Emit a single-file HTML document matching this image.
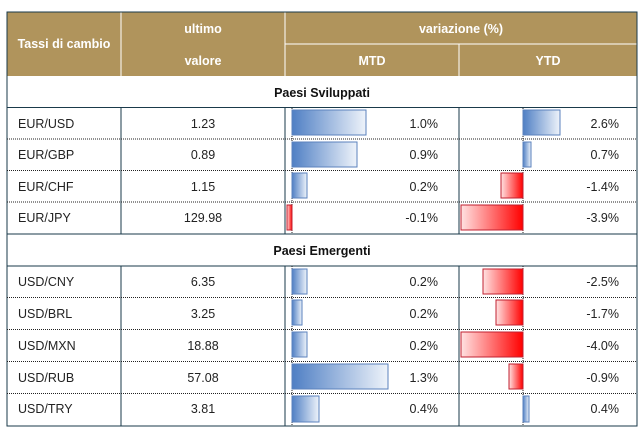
<!DOCTYPE html>
<html><head><meta charset="utf-8"><style>
body{margin:0;background:#fff;width:644px;height:434px;overflow:hidden}
svg text{font-family:"Liberation Sans",sans-serif;font-size:12.5px;fill:#222}
</style></head><body>
<svg width="644" height="434" xmlns="http://www.w3.org/2000/svg">
<defs>
<linearGradient id="b" x1="0" x2="1"><stop offset="0" stop-color="#4f7fc4"/><stop offset="1" stop-color="#eef3fa"/></linearGradient>
<linearGradient id="r" x1="0" x2="1"><stop offset="0" stop-color="#ffe2e2"/><stop offset="1" stop-color="#ff0000"/></linearGradient>
</defs>
<rect x="7" y="12" width="630" height="64" fill="#b0945c"/>
<line x1="285" y1="44" x2="637" y2="44" stroke="#fff" stroke-width="1"/>
<line x1="121" y1="12" x2="121" y2="76" stroke="#fff"/>
<line x1="285" y1="12" x2="285" y2="76" stroke="#fff"/>
<line x1="459" y1="44" x2="459" y2="76" stroke="#fff"/>
<g style="font-weight:bold">
<text x="64" y="48" text-anchor="middle" style="fill:#fff;font-weight:bold">Tassi di cambio</text>
<text x="203" y="33" text-anchor="middle" style="fill:#fff;font-weight:bold">ultimo</text>
<text x="203" y="65" text-anchor="middle" style="fill:#fff;font-weight:bold">valore</text>
<text x="461" y="33" text-anchor="middle" style="fill:#fff;font-weight:bold">variazione (%)</text>
<text x="372" y="65" text-anchor="middle" style="fill:#fff;font-weight:bold">MTD</text>
<text x="548" y="65" text-anchor="middle" style="fill:#fff;font-weight:bold">YTD</text>
<text x="322" y="97" text-anchor="middle" style="font-weight:bold;fill:#111">Paesi Sviluppati</text>
<text x="322" y="255" text-anchor="middle" style="font-weight:bold;fill:#111">Paesi Emergenti</text>
</g>
<g stroke="#1a3a4a" fill="none">
<rect x="7" y="12" width="630" height="414"/>
<line x1="7" y1="107.5" x2="637" y2="107.5"/>
<line x1="7" y1="234" x2="637" y2="234"/>
<line x1="7" y1="266" x2="637" y2="266"/>
<line x1="121" y1="107" x2="121" y2="234"/><line x1="285" y1="107" x2="285" y2="234"/><line x1="459" y1="107" x2="459" y2="234"/>
<line x1="121" y1="266" x2="121" y2="426"/><line x1="285" y1="266" x2="285" y2="426"/><line x1="459" y1="266" x2="459" y2="426"/>
</g>
<g stroke="#222" stroke-dasharray="1,1" stroke-width="1">
<line x1="7" y1="139" x2="637" y2="139"/><line x1="7" y1="170.5" x2="637" y2="170.5"/><line x1="7" y1="202" x2="637" y2="202"/>
<line x1="7" y1="297.5" x2="637" y2="297.5"/><line x1="7" y1="329.5" x2="637" y2="329.5"/><line x1="7" y1="361.5" x2="637" y2="361.5"/><line x1="7" y1="393.5" x2="637" y2="393.5"/>
<line x1="292" y1="108" x2="292" y2="234"/><line x1="523" y1="108" x2="523" y2="234"/>
<line x1="292" y1="266" x2="292" y2="426"/><line x1="523" y1="266" x2="523" y2="426"/>
</g>
<g stroke-width="1">
<rect x="292" y="110" width="74" height="25" fill="url(#b)" stroke="#5b82bd"/>
<rect x="292" y="142" width="65" height="25" fill="url(#b)" stroke="#5b82bd"/>
<rect x="292" y="173" width="15" height="25" fill="url(#b)" stroke="#5b82bd"/>
<rect x="287" y="205" width="5" height="25" fill="url(#r)" stroke="#c02030"/>
<rect x="292" y="269" width="15" height="25" fill="url(#b)" stroke="#5b82bd"/>
<rect x="292" y="300" width="10" height="25" fill="url(#b)" stroke="#5b82bd"/>
<rect x="292" y="332" width="15" height="25" fill="url(#b)" stroke="#5b82bd"/>
<rect x="292" y="364" width="96" height="25" fill="url(#b)" stroke="#5b82bd"/>
<rect x="292" y="396" width="27" height="26" fill="url(#b)" stroke="#5b82bd"/>
<rect x="523" y="110" width="37" height="25" fill="url(#b)" stroke="#5b82bd"/>
<rect x="523" y="142" width="8" height="25" fill="url(#b)" stroke="#5b82bd"/>
<rect x="501" y="173" width="22" height="25" fill="url(#r)" stroke="#c02030"/>
<rect x="461" y="205" width="62" height="25" fill="url(#r)" stroke="#c02030"/>
<rect x="483" y="269" width="40" height="25" fill="url(#r)" stroke="#c02030"/>
<rect x="496" y="300" width="27" height="25" fill="url(#r)" stroke="#c02030"/>
<rect x="461" y="332" width="62" height="25" fill="url(#r)" stroke="#c02030"/>
<rect x="509" y="364" width="14" height="25" fill="url(#r)" stroke="#c02030"/>
<rect x="523" y="396" width="6" height="26" fill="url(#b)" stroke="#5b82bd"/>
</g>
<g>
<text x="18" y="128">EUR/USD</text><text x="203" y="128" text-anchor="middle">1.23</text><text x="438" y="128" text-anchor="end">1.0%</text><text x="619" y="128" text-anchor="end">2.6%</text>
<text x="18" y="159">EUR/GBP</text><text x="203" y="159" text-anchor="middle">0.89</text><text x="438" y="159" text-anchor="end">0.9%</text><text x="619" y="159" text-anchor="end">0.7%</text>
<text x="18" y="191">EUR/CHF</text><text x="203" y="191" text-anchor="middle">1.15</text><text x="438" y="191" text-anchor="end">0.2%</text><text x="619" y="191" text-anchor="end">-1.4%</text>
<text x="18" y="222">EUR/JPY</text><text x="203" y="222" text-anchor="middle">129.98</text><text x="438" y="222" text-anchor="end">-0.1%</text><text x="619" y="222" text-anchor="end">-3.9%</text>
<text x="18" y="286">USD/CNY</text><text x="203" y="286" text-anchor="middle">6.35</text><text x="438" y="286" text-anchor="end">0.2%</text><text x="619" y="286" text-anchor="end">-2.5%</text>
<text x="18" y="318">USD/BRL</text><text x="203" y="318" text-anchor="middle">3.25</text><text x="438" y="318" text-anchor="end">0.2%</text><text x="619" y="318" text-anchor="end">-1.7%</text>
<text x="18" y="350">USD/MXN</text><text x="203" y="350" text-anchor="middle">18.88</text><text x="438" y="350" text-anchor="end">0.2%</text><text x="619" y="350" text-anchor="end">-4.0%</text>
<text x="18" y="382">USD/RUB</text><text x="203" y="382" text-anchor="middle">57.08</text><text x="438" y="382" text-anchor="end">1.3%</text><text x="619" y="382" text-anchor="end">-0.9%</text>
<text x="18" y="413">USD/TRY</text><text x="203" y="413" text-anchor="middle">3.81</text><text x="438" y="413" text-anchor="end">0.4%</text><text x="619" y="413" text-anchor="end">0.4%</text>
</g>
</svg>
</body></html>
